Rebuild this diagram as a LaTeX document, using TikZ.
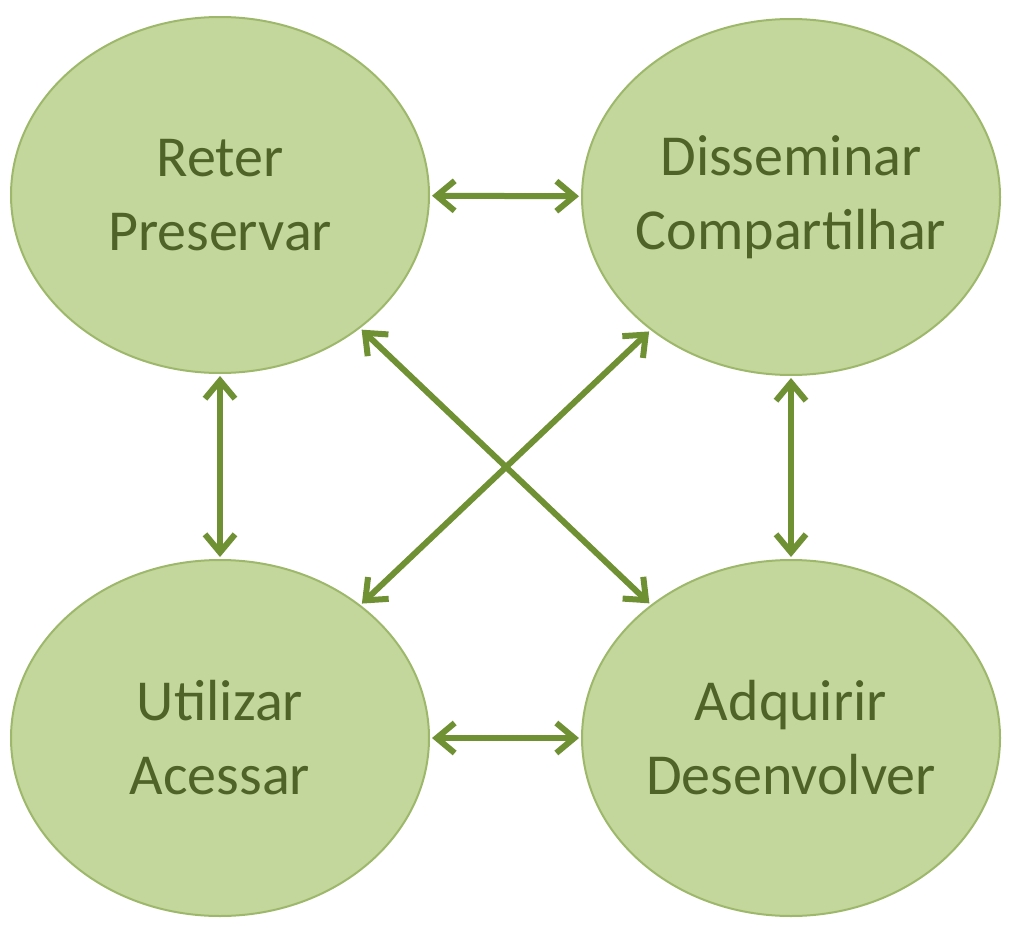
\documentclass[tikz,border=0pt]{standalone}
\usepackage{fontspec}
\setmainfont{Carlito}
\usetikzlibrary{shapes.geometric,arrows.meta}
\definecolor{fillgreen}{HTML}{C3D69B}
\definecolor{linegreen}{HTML}{9DB86A}
\definecolor{textgreen}{HTML}{4F6228}
\definecolor{arrowgreen}{HTML}{6F9133}

\begin{document}
\begin{tikzpicture}[x=0.5pt,y=-0.5pt,
        fase/.style={ellipse,fill=fillgreen,draw=linegreen,line width=1pt,
            minimum width=209pt,minimum height=178pt,inner sep=-6pt,
            align=center,text=textgreen,font=\fontsize{29}{37}\selectfont},
        seta/.style={{Straight Barb[length=9pt,width=15pt]}-{Straight Barb[length=9pt,width=15pt]},
            line width=3pt,draw=arrowgreen,shorten <=1pt,shorten >=1pt}]
        \useasboundingbox (0,0) rectangle (1011,931);

        \node[fase] (reter) at (220,195) {Reter\\Preservar};
        \node[fase] (disseminar) at (791,197) {Disseminar\\Compartilhar};
        \node[fase] (utilizar) at (220,738) {Utilizar\\Acessar};
        \node[fase] (adquirir) at (791,738) {Adquirir\\Desenvolver};

        \draw[seta] (reter) -- (disseminar);
        \draw[seta] (utilizar) -- (adquirir);
        \draw[seta] (reter) -- (utilizar);
        \draw[seta] (disseminar) -- (adquirir);
        \draw[seta] (reter) -- (adquirir);
        \draw[seta] (disseminar) -- (utilizar);
    \end{tikzpicture}
\end{document}
